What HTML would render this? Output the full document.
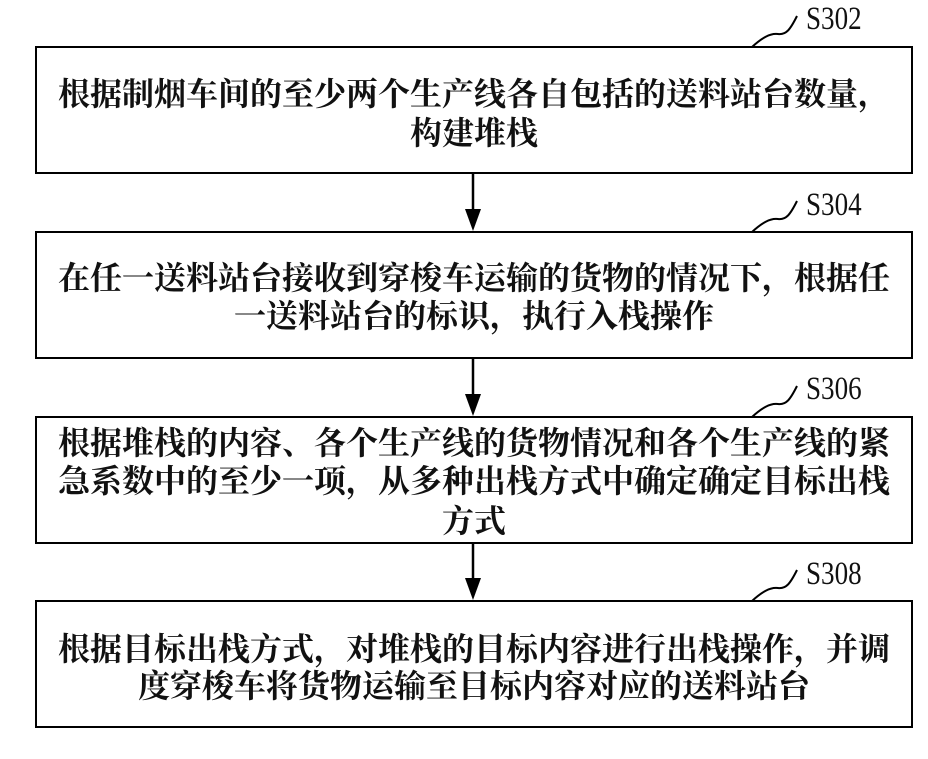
<!DOCTYPE html>
<html><head><meta charset="utf-8"><style>
body{margin:0;width:928px;height:759px;background:#fff;position:relative;overflow:hidden;font-family:"Liberation Serif","Noto Serif CJK SC",serif;}
.box{position:absolute;left:35px;width:878px;border:2.5px solid #000;box-sizing:border-box;}
.t{position:absolute;left:35px;width:878px;text-align:center;font-family:"Noto Serif CJK SC","WenQuanYi Zen Hei",serif;font-weight:bold;font-size:32px;line-height:33px;color:#111;white-space:nowrap;}
.lbl{position:absolute;left:806px;font-size:33px;line-height:30px;color:#111;transform:scaleX(0.82);transform-origin:left;}
</style></head><body>
<div class="box" style="top:46px;height:128px"></div>
<div class="box" style="top:231px;height:128px"></div>
<div class="box" style="top:416px;height:128px"></div>
<div class="box" style="top:600px;height:128px"></div>

<div class="t" style="top:76px">根据制烟车间的至少两个生产线各自包括的送料站台数量，</div>
<div class="t" style="top:115px">构建堆栈</div>
<div class="t" style="top:260px">在任一送料站台接收到穿梭车运输的货物的情况下，根据任</div>
<div class="t" style="top:298px">一送料站台的标识，执行入栈操作</div>
<div class="t" style="top:425px">根据堆栈的内容、各个生产线的货物情况和各个生产线的紧</div>
<div class="t" style="top:463px">急系数中的至少一项，从多种出栈方式中确定确定目标出栈</div>
<div class="t" style="top:503px">方式</div>
<div class="t" style="top:631px">根据目标出栈方式，对堆栈的目标内容进行出栈操作，并调</div>
<div class="t" style="top:668px">度穿梭车将货物运输至目标内容对应的送料站台</div>

<div class="lbl" style="top:4px">S302</div>
<div class="lbl" style="top:190px">S304</div>
<div class="lbl" style="top:374px">S306</div>
<div class="lbl" style="top:559px">S308</div>

<svg width="928" height="759" style="position:absolute;left:0;top:0">
<g fill="none" stroke="#000" stroke-width="2">
<path d="M752 47 C762 38,770 33,778 34 C786 35,790 30,797 16"/>
<path d="M752 232 C762 223,770 218,778 219 C786 220,790 215,797 201"/>
<path d="M752 417 C762 408,770 403,778 404 C786 405,790 400,797 386"/>
<path d="M752 601 C762 592,770 587,778 588 C786 589,790 584,797 570"/>
<line x1="473" y1="174" x2="473" y2="212" stroke-width="2.5"/>
<line x1="473" y1="359" x2="473" y2="397" stroke-width="2.5"/>
<line x1="473" y1="544" x2="473" y2="581" stroke-width="2.5"/>
</g>
<g fill="#000">
<polygon points="465,209 481,209 473,231"/>
<polygon points="465,394 481,394 473,416"/>
<polygon points="465,578 481,578 473,600"/>
</g>
</svg>
</body></html>
